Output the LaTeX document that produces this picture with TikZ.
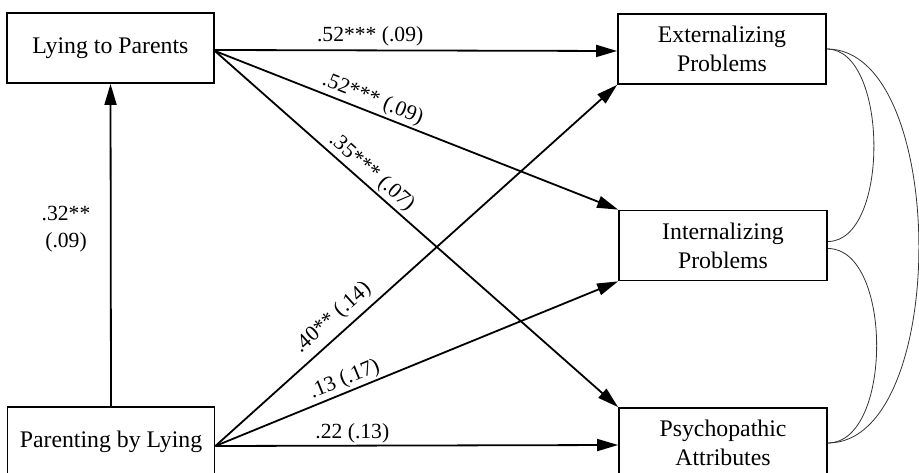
\documentclass[tikz,border=0pt]{standalone}
\usepackage{fontspec}
\setmainfont{Liberation Serif}
\usetikzlibrary{arrows.meta}
\begin{document}
\begin{tikzpicture}[x=1pt,y=-1pt,
  box/.style={draw,line width=1.8pt,minimum width=207pt,minimum height=70pt,inner sep=0pt,align=center,font=\fontsize{23.8}{29}\selectfont},
  arr/.style={line width=1.8pt,-{Triangle[length=21pt,width=12pt]}},
  lab/.style={font=\fontsize{21.6}{27}\selectfont,inner sep=2pt},
  cov/.style={line width=0.8pt,draw=black!80}]
\useasboundingbox (0,0) rectangle (919,473);
\node[box] (lp) at (110.5,48) {Lying to Parents};
\node[box] (pl) at (111,442) {Parenting by Lying};
\node[box,minimum width=208pt] (ext) at (722,49) {Externalizing\\Problems};
\node[box,minimum width=208pt] (int) at (723,245.5) {Internalizing\\Problems};
\node[box,minimum width=208pt] (psy) at (723,443) {Psychopathic\\Attributes};
% paths from Lying to Parents
\draw[arr] ([yshift=-2pt]lp.east) -- ([yshift=-2pt]ext.west) node[lab,pos=0.386,above=1pt] {.52*** (.09)};
\draw[arr] ([yshift=-3pt]lp.east) -- (int.north west) node[lab,pos=0.38,sloped,above] {.52*** (.09)};
\draw[arr] ([yshift=-3pt]lp.east) -- (psy.north west) node[lab,pos=0.368,sloped,above] {.35*** (.07)};
% paths from Parenting by Lying
\draw[arr] (pl.north) -- (lp.south);
\node[lab,align=center] (l32) at (66,229) {.32**\\(.09)};
\draw[arr] ([yshift=-4pt]pl.east) -- (ext.south west) node[lab,pos=0.32,sloped,above=4pt] {.40** (.14)};
\draw[arr] ([yshift=-4pt]pl.east) -- (int.south west) node[lab,pos=0.333,sloped,above] {.13 (.17)};
\draw[arr] ([yshift=-4pt]pl.east) -- ([yshift=-2pt]psy.west) node[lab,pos=0.34,above] {.22 (.13)};
% covariances
\draw[cov] (ext.east) .. controls +(62,0) and +(62,0) .. ([yshift=4pt]int.east);
\draw[cov] ([yshift=-3pt]int.east) .. controls +(65,0) and +(65,0) .. (psy.east);
\draw[cov] (ext.east) .. controls +(122,0) and +(122,0) .. (psy.east);
\end{tikzpicture}
\end{document}
